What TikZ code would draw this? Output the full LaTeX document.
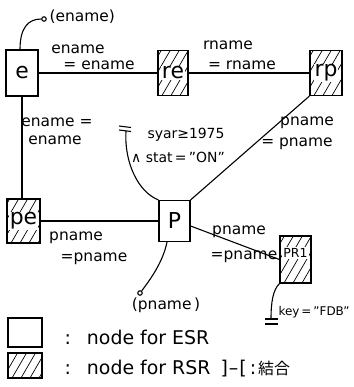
\documentclass[tikz,border=0pt]{standalone}
\usepackage{fontspec}
\setmainfont{DejaVu Sans}
\newfontfamily\cjk{Noto Sans CJK JP}
\newcommand\wb[1]{{\setlength\fboxsep{1bp}\colorbox{white}{#1}}}
\begin{document}
\begin{tikzpicture}[x=1bp,y=-1bp,line width=1.1bp,
  ent/.style={draw,line width=1.2bp,inner sep=0pt,font=\fontsize{22}{22}\selectfont},
  hatched/.style={ent,path picture={\foreach \k in {-50,-41,...,50}{\draw[line width=0.7bp] ([xshift=\k bp]path picture bounding box.south west) -- ++(32bp,55bp);}}},
  lbl/.style={font=\fontsize{15.5}{17}\selectfont,inner sep=0pt},
  sel/.style={font=\fontsize{14}{16}\selectfont,inner sep=0pt},
  leg/.style={font=\fontsize{19}{20}\selectfont,inner sep=0pt},
  dot/.style={circle,draw,line width=1.1bp,inner sep=0pt,minimum size=4.5bp}]
\useasboundingbox (0,0) rectangle (354,387);
% nodes
\node[ent,minimum width=32bp,minimum height=46bp] (e) at (22,73) {e};
\node[hatched,minimum width=30bp,minimum height=45bp] (re) at (173,73) {\wb{re}};
\node[hatched,minimum width=32bp,minimum height=45bp] (rp) at (326,73) {\wb{rp}};
\node[hatched,minimum width=33bp,minimum height=44bp] (pe) at (23.5,221) {\wb{pe}};
\node[ent,minimum width=31bp,minimum height=41bp] (P) at (174.5,221) {P};
\node[hatched,minimum width=31bp,minimum height=47bp,font=\fontsize{12.5}{12.5}\selectfont] (PR1) at (295.5,259.5) {\raisebox{2bp}[0pt][0pt]{\wb{PR1}}};
% connectors
\draw (e) -- (re);
\draw (re) -- (rp);
\draw (e.south) -- (e.south |- pe.north);
\draw (pe) -- (P);
\draw (rp.south west) -- (P.north east);
\draw ([yshift=-5bp]P.east) -- (PR1.west);
% projection on e
\node[dot] (ec) at (44,19) {};
\draw ([xshift=-2bp]e.north) .. controls (20,28) and (28,19) .. (ec);
\node[lbl,anchor=west] (enl) at (49,17) {(ename)};
% selection on P
\coordinate (s1) at (126,131);
\draw (P.north west) .. controls (138,192) and (124,162) .. (s1);
\coordinate (s2a) at (119,126); \coordinate (s2b) at (131,127.5);
\coordinate (s3a) at (119,130); \coordinate (s3b) at (131,131.5);
\draw (s2a) -- (s2b);
\draw (s3a) -- (s3b);
\node[sel] (c1) at (186,135) {syar≥1975};
\node[sel] (c2) at (178,157) {∧ stat\,=\,"ON"};
% projection on P
\node[dot] (pc) at (140,293) {};
\draw ([xshift=-7.5bp]P.south) .. controls (163,262) and (150,280) .. (pc);
\node[lbl] (pnl) at (166,305) {(pname\,)};
% selection on PR1
\coordinate (k1) at (271,319);
\draw (PR1.south west) .. controls (273,290) and (271,302) .. (k1);
\coordinate (k2a) at (265,319); \coordinate (k2b) at (278,319);
\coordinate (k3a) at (265,324); \coordinate (k3b) at (278,324);
\draw (k2a) -- (k2b);
\draw (k3a) -- (k3b);
\node[sel,anchor=west,font=\fontsize{12}{14}\selectfont] (kl) at (278,312) {key\,=\,"FDB"};
% edge labels
\node[lbl] (l1) at (78,49) {ename};
\node[lbl] (l2) at (99,65) {= ename};
\node[lbl] (l3) at (228,45) {rname};
\node[lbl] (l4) at (242,65) {= rname};
\node[lbl] (l5) at (57,122) {ename =};
\node[lbl] (l6) at (55,140) {ename};
\node[lbl] (l7) at (307,123) {pname};
\node[lbl] (l8) at (297,144) {= pname};
\node[lbl] (l9) at (239,232) {pname};
\node[lbl] (l10) at (244,257) {=pname};
\node[lbl] (l11) at (76,238) {pname};
\node[lbl] (l12) at (94,259) {=pname};
% legend
\node[ent,minimum width=34bp,minimum height=29bp] (g1) at (25,332.5) {};
\node[hatched,minimum width=34bp,minimum height=25bp] (g2) at (25,365.5) {};
\node[leg,anchor=west] (t1) at (64,337) {:\hspace{16bp}node for ESR};
\node[leg,anchor=west] (t2) at (64,369) {:\hspace{16bp}node for RSR\hspace{10bp}]\kern1bp--\kern1bp[\hspace{3bp}:\hspace{2bp}{\cjk\fontsize{16}{16}\selectfont 結合}};
\end{tikzpicture}
\end{document}
